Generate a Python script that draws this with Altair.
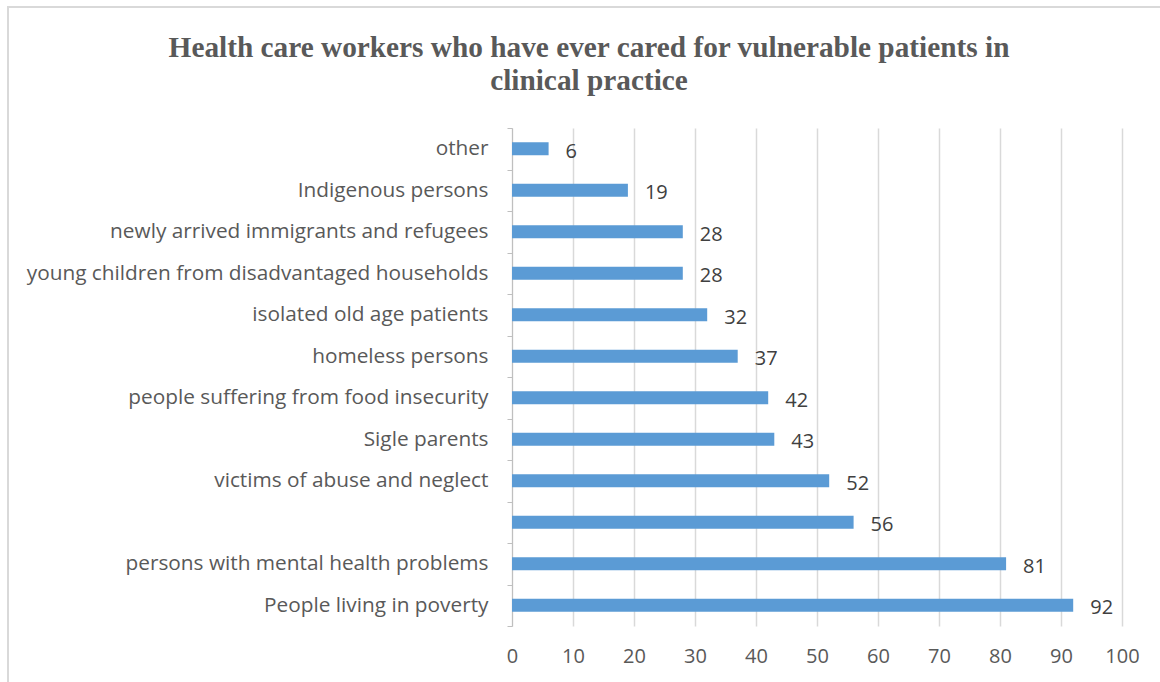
import altair as alt
import pandas as pd

categories = [
    "other\u00a0",
    "Indigenous persons",
    "newly arrived immigrants and refugees",
    "young children from disadvantaged households",
    "isolated old age patients\u00a0",
    "homeless persons",
    "people suffering from food insecurity",
    "Sigle parents",
    "victims of abuse and neglect",
    " ",
    "persons with mental health problems",
    "People living in poverty",
]
values = [6, 19, 28, 28, 32, 37, 42, 43, 52, 56, 81, 92]
x_ticks = [0, 10, 20, 30, 40, 50, 60, 70, 80, 90, 100]
title_lines = [
    "Health care workers who have ever cared for vulnerable patients in",
    "clinical practice",
]

df = pd.DataFrame({"category": categories, "value": values})

LABEL_FONT = "Open Sans"
GRAY = "#595959"

y_enc = alt.Y(
    "category:N",
    sort=categories,
    title=None,
    scale=alt.Scale(paddingInner=0, paddingOuter=0),
    axis=alt.Axis(
        domainColor="#BFBFBF",
        domainWidth=1,
        tickColor="#BFBFBF",
        tickSize=5,
        tickBand="extent",
        labelPadding=19,
        labelFontSize=20.8,
        labelFont=LABEL_FONT,
        labelColor=GRAY,
        labelLimit=600,
        grid=False,
    ),
)
x_enc = alt.X(
    "value:Q",
    title=None,
    scale=alt.Scale(domain=[0, 100], nice=False),
    axis=alt.Axis(
        values=x_ticks,
        domain=False,
        ticks=False,
        grid=True,
        gridColor="#D9D9D9",
        gridWidth=1.5,
        labelPadding=20,
        labelFontSize=20,
        labelFont=LABEL_FONT,
        labelColor=GRAY,
        labelFlush=False,
    ),
)

bars = alt.Chart(df).mark_bar(color="#5B9BD5", size=13).encode(y=y_enc, x=x_enc)
labels = alt.Chart(df).mark_text(
    align="left", baseline="middle", dx=17, dy=3, fontSize=20, font=LABEL_FONT, color="#404040"
).encode(y=alt.Y("category:N", sort=categories), x=alt.X("value:Q"), text="value:Q")

frame = alt.Chart(pd.DataFrame({"a": [0]})).mark_rect(
    fill="transparent", stroke="#D9D9D9", strokeWidth=2
).encode(x=alt.value(-504), x2=alt.value(660), y=alt.value(-121), y2=alt.value(570))

chart = (
    alt.layer(frame, bars, labels)
    .properties(
        width=610,
        height=498,
        autosize=alt.AutoSizeParams(type="none"),
        padding={"left": 512, "top": 128, "right": 38, "bottom": 56},
        title=alt.TitleParams(
            text=title_lines,
            font="Liberation Serif",
            fontSize=29.3,
            fontWeight="bold",
            color=GRAY,
            anchor="middle",
            frame="group",
            dx=-228,
            offset=-90,
            lineHeight=33,
        ),
    )
    .configure_view(strokeWidth=0)
)

chart.save("out.html", embed_options={"renderer": "svg", "actions": False})
